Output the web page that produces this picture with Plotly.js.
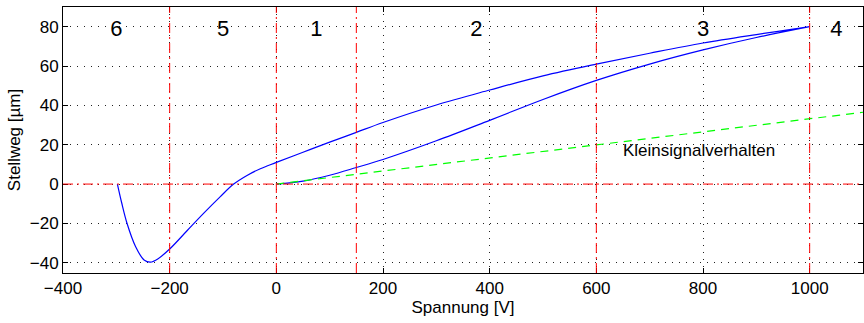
<!DOCTYPE html>
<html><head><meta charset="utf-8">
<script src="https://cdn.plot.ly/plotly-3.0.1.min.js"></script>
<style>html,body{margin:0;padding:0;background:#fff}#plot{width:864px;height:323px}</style>
</head><body><div id="plot"></div>
<script>
// Lower branch (rising voltage)
const lowerV = [0, 50, 100, 150, 200, 300, 400, 500, 600, 700, 800, 900, 1000];
const lowerS = [0, 1.5, 4.5, 8.4, 12.5, 22, 32.4, 43, 52.7, 61, 68.2, 74.5, 80];
// Upper branch (falling voltage), continuing into negative voltages
const upperV = [1000, 900, 800, 700, 600, 500, 400, 300, 200, 150, 100, 50, 0, -30, -55, -80, -105, -136, -167, -200, -223, -236, -248, -264, -280, -290, -298];
const upperS = [80, 76, 71.7, 66.5, 61, 55, 47.8, 40.2, 31.3, 26.3, 21.3, 16.2, 11, 7.8, 4.4, 0, -6.4, -14.8, -23.6, -33, -38.2, -39.7, -38.6, -31.7, -19.9, -9.5, 0];
// Small-signal line
const smallV = [0, 1100];
const smallS = [0, 36.5];
// Region boundaries
const boundaryV = [-200, 0, 150, 600, 1000];
// Region labels
const regionLabels = ['6', '5', '1', '2', '3', '4'];
const regionX = [-300, -100, 75, 375, 800, 1050];
const regionY = 78;

const blueX = lowerV.concat(upperV);
const blueY = lowerS.concat(upperS);
const FONT = 'Liberation Sans, Arial, Helvetica, sans-serif';

const traces = [
  {x: blueX, y: blueY, mode: 'lines', line: {color: '#0000ff', width: 1.2, shape: 'spline', smoothing: 1}, hoverinfo: 'skip'},
  {x: smallV, y: smallS, mode: 'lines', line: {color: '#00ff00', width: 1.2, dash: '8px,6px'}, hoverinfo: 'skip'},
  {x: regionX, y: regionLabels.map(() => regionY), mode: 'text', text: regionLabels,
   textfont: {family: FONT, size: 22, color: '#000'}, textposition: 'middle center', hoverinfo: 'skip'},
  {x: [650], y: [16.5], mode: 'text', text: ['Kleinsignalverhalten'],
   textfont: {family: FONT, size: 17, color: '#000'}, textposition: 'middle right', hoverinfo: 'skip'}
];

const dd = '10px,4px,2px,4px';
const shapes = boundaryV.map(v => ({type: 'line', xref: 'x', yref: 'paper', x0: v, x1: v, y0: 0, y1: 1,
  line: {color: '#ff0000', width: 1, dash: dd}, layer: 'above'}));
shapes.push({type: 'line', xref: 'paper', yref: 'y', x0: 0, x1: 1, y0: 0, y1: 0,
  line: {color: '#ff0000', width: 1, dash: dd}, layer: 'above'});

const axisFont = {family: FONT, size: 17, color: '#000'};
const layout = {
  width: 864, height: 323,
  margin: {l: 63, r: 1, t: 7, b: 50},
  showlegend: false,
  paper_bgcolor: '#fff', plot_bgcolor: '#fff',
  font: axisFont,
  xaxis: {range: [-400, 1100], tickvals: [-400, -200, 0, 200, 400, 600, 800, 1000],
    showgrid: true, gridcolor: '#222', griddash: '1px,6px', gridwidth: 1,
    zeroline: false, showline: true, linecolor: '#000', linewidth: 1, mirror: 'ticks',
    ticks: 'inside', ticklen: 5, tickcolor: '#000', tickfont: axisFont,
    title: {text: 'Spannung [V]', font: axisFont, standoff: 2}},
  yaxis: {range: [-45.2, 90], tickvals: [-40, -20, 0, 20, 40, 60, 80],
    showgrid: true, gridcolor: '#222', griddash: '1px,6px', gridwidth: 1,
    zeroline: false, showline: true, linecolor: '#000', linewidth: 1, mirror: 'ticks',
    ticks: 'inside', ticklen: 5, tickcolor: '#000', tickfont: axisFont,
    title: {text: 'Stellweg [µm]', font: axisFont, standoff: 4}},
  shapes: shapes
};
Plotly.newPlot('plot', traces, layout, {staticPlot: true, displayModeBar: false});
</script></body></html>
